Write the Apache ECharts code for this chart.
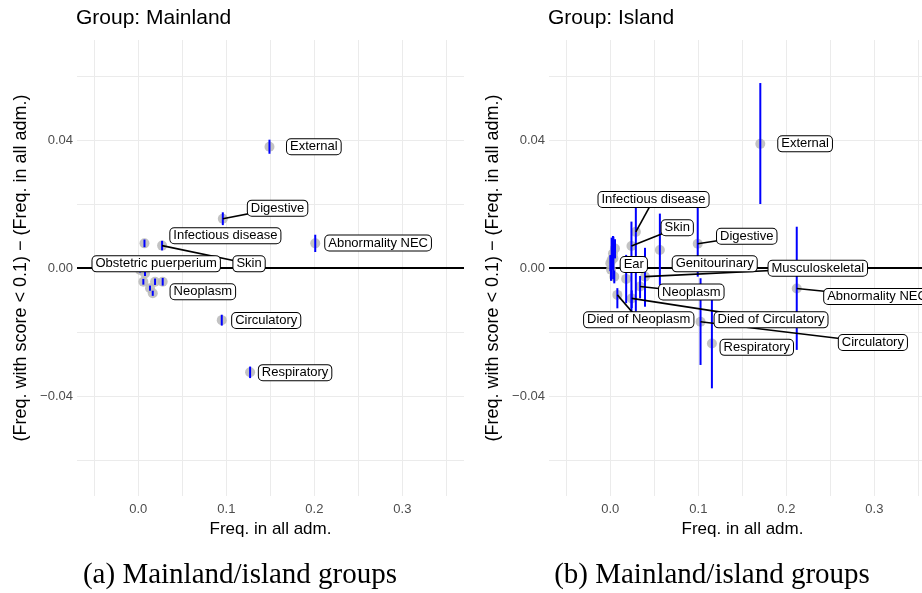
<!DOCTYPE html>
<html>
<head>
<meta charset="utf-8">
<script src="https://cdn.jsdelivr.net/npm/echarts@6/dist/echarts.min.js"></script>
<style>
  html, body { margin: 0; padding: 0; background: #fff; overflow: hidden; }
  #chart { width: 940px; height: 593px; }
</style>
</head>
<body>
<div id="chart"></div>
<script>
// ---- Mainland group: frequency in all admissions vs. difference in frequency ----
const mainNames = ['External', 'Digestive', 'Abnormality NEC', 'Skin', 'Infectious disease',
  'Obstetric puerperium', 'Neoplasm', 'Circulatory', 'Respiratory', '', '', '', '', '', ''];
const mainX  = [0.149, 0.096, 0.201, 0.027, 0.007, 0.003, 0.0277, 0.0948, 0.127, 0.002, 0.0076, 0.0057, 0.0133, 0.0164, 0.019];
const mainY  = [0.0379, 0.0154, 0.0077, 0.0070, 0.0077, 0.0006, -0.0043, -0.0163, -0.0326, -0.0006, -0.0017, -0.0043, -0.0063, -0.0079, -0.0043];
const mainLo = [0.0357, 0.0134, 0.0050, 0.0055, 0.0065, -0.0004, -0.0055, -0.0180, -0.0344, -0.0014, -0.0025, -0.0052, -0.0071, -0.0087, -0.0053];
const mainHi = [0.0401, 0.0174, 0.0104, 0.0085, 0.0089, 0.0016, -0.0031, -0.0146, -0.0308, 0.0002, -0.0009, -0.0034, -0.0055, -0.0071, -0.0033];

// ---- Island group ----
const islandNames = ['External', 'Digestive', 'Abnormality NEC', 'Circulatory', 'Respiratory',
  'Genitourinary', 'Infectious disease', 'Skin', 'Ear', 'Neoplasm', 'Musculoskeletal',
  'Died of Neoplasm', 'Died of Circulatory', '', '', '', '', '', '', ''];
const islandX  = [0.1704, 0.0993, 0.2118, 0.1025, 0.1154, 0.0563, 0.029, 0.024, 0.0035, 0.0338, 0.0394, 0.008, 0.0243, 0.0015, 0.003, 0.0008, 0.0045, 0.0053, 0.018, 0.0];
const islandY  = [0.0388, 0.0076, -0.0064, -0.0168, -0.0236, 0.0056, 0.0113, 0.0069, 0.0030, -0.0058, -0.0027, -0.0084, -0.0095, 0.0025, 0.0045, -0.0005, -0.0027, 0.0061, -0.0034, 0.0015];
const islandLo = [0.0200, -0.0027, -0.0256, -0.0303, -0.0376, -0.0053, -0.0136, -0.0136, -0.0035, -0.0095, -0.0121, -0.0126, -0.0125, -0.0035, -0.0005, -0.0040, -0.0048, 0.0030, -0.0110, -0.0010];
const islandHi = [0.0578, 0.0188, 0.0129, -0.0032, -0.0100, 0.0170, 0.0192, 0.0145, 0.0098, -0.0025, 0.0063, -0.0063, -0.0070, 0.0095, 0.0100, 0.0040, -0.0008, 0.0090, 0.0041, 0.0040];

// Tick labels
const xTickLabels = ['0.0', '0.1', '0.2', '0.3'];
const yTickLabels = ['−0.04', '0.00', '0.04'];

// Repelled label anchors (data units) and whether a leader segment is drawn
const mainLabelX = [0.1994, 0.1582, 0.2724, 0.1258, 0.0989, 0.0203, 0.0733, 0.1453, 0.1781];
const mainLabelY = [0.0379, 0.0187, 0.0078, 0.0013, 0.0101, 0.0013, -0.0074, -0.0164, -0.0327];
const mainLabelLink = [false, true, false, true, false, false, false, false, false];

const islandLabelX = [0.2213, 0.155, 0.303, 0.2983, 0.1664, 0.1186, 0.0491, 0.076, 0.0267, 0.092, 0.2357, 0.0323, 0.1826];
const islandLabelY = [0.0388, 0.0099, -0.0089, -0.0233, -0.0248, 0.0013, 0.0214, 0.0126, 0.0011, -0.0075, -0.0001, -0.0162, -0.0162];
const islandLabelLink = [false, true, true, true, false, false, true, true, false, true, true, true, true];

const SANS = '"Liberation Sans", Arial, Helvetica, sans-serif';
const SERIF = '"Liberation Serif", "Times New Roman", serif';
const GRID_COLOR = '#ebebeb';

function near(v, step) {
  const q = v / step;
  return Math.abs(q - Math.round(q)) < 1e-6;
}

function xAxisFor(gridIndex) {
  return {
    type: 'value', gridIndex,
    min: -0.06966, max: 0.37, splitNumber: 9,
    axisLine: { show: false }, axisTick: { show: false },
    splitLine: { show: true, showMinLine: false, showMaxLine: false, lineStyle: { color: GRID_COLOR, width: 1 } },
    axisLabel: {
      color: '#4d4d4d', fontSize: 13, fontFamily: SANS, margin: 7,
      showMinLabel: false, showMaxLabel: false,
      formatter: v => {
        if (!near(v, 0.1)) return '';
        const i = Math.round(v * 10);
        return xTickLabels[i] !== undefined ? xTickLabels[i] : '';
      }
    },
    name: 'Freq. in all adm.', nameLocation: 'middle', nameGap: 23,
    nameTextStyle: { color: '#000', fontSize: 17, fontFamily: SANS }
  };
}

function yAxisFor(gridIndex) {
  return {
    type: 'value', gridIndex,
    min: -0.07125, max: 0.07125, splitNumber: 7,
    axisLine: { show: false }, axisTick: { show: false },
    splitLine: { show: true, showMinLine: false, showMaxLine: false, lineStyle: { color: GRID_COLOR, width: 1 } },
    axisLabel: {
      color: '#4d4d4d', fontSize: 13, fontFamily: SANS, margin: 4,
      showMinLabel: false, showMaxLabel: false,
      formatter: v => {
        if (!near(v, 0.04)) return '';
        const i = Math.round(v / 0.04) + 1;
        return yTickLabels[i] !== undefined ? yTickLabels[i] : '';
      }
    },
    name: '(Freq. with score < 0.1) − (Freq. in all adm.)', nameLocation: 'middle', nameGap: 47, nameRotate: 90,
    nameTextStyle: { color: '#000', fontSize: 18, fontFamily: SANS }
  };
}

function panelSeries(idx, names, xs, ys, los, his, lx, ly, link) {
  const pts = xs.map((x, i) => [x, ys[i]]);
  const bars = xs.map((x, i) => [x, los[i], his[i]]);
  const labelled = names.map((n, i) => i).filter(i => names[i] !== '');
  const labelData = labelled.map((i, k) => ({ value: [lx[k], ly[k]], name: names[i] }));
  const segData = [];
  labelled.forEach((i, k) => { if (link[k]) segData.push([xs[i], ys[i], lx[k], ly[k]]); });

  return [
    { // reference line at zero
      type: 'custom', xAxisIndex: idx, yAxisIndex: idx, z: 1, silent: true,
      data: [[0, 0]],
      renderItem: (params, api) => {
        const cs = params.coordSys;
        const yy = api.coord([0, 0])[1];
        return { type: 'line', shape: { x1: cs.x, y1: yy, x2: cs.x + cs.width, y2: yy },
          style: { stroke: '#000', lineWidth: 2 } };
      }
    },
    { // estimates
      type: 'scatter', xAxisIndex: idx, yAxisIndex: idx, z: 2, silent: true,
      symbol: 'circle', symbolSize: 10,
      itemStyle: { color: '#b9b9b9', opacity: 0.85 },
      data: pts
    },
    { // confidence intervals
      type: 'custom', xAxisIndex: idx, yAxisIndex: idx, z: 3, silent: true,
      data: bars,
      encode: { x: 0, y: [1, 2] },
      renderItem: (params, api) => {
        const a = api.coord([api.value(0), api.value(1)]);
        const b = api.coord([api.value(0), api.value(2)]);
        return { type: 'line', shape: { x1: a[0], y1: a[1], x2: b[0], y2: b[1] },
          style: { stroke: '#0000ff', lineWidth: 2 } };
      }
    },
    { // leader segments
      type: 'custom', xAxisIndex: idx, yAxisIndex: idx, z: 4, silent: true,
      data: segData,
      encode: { x: [0, 2], y: [1, 3] },
      renderItem: (params, api) => {
        const a = api.coord([api.value(0), api.value(1)]);
        const b = api.coord([api.value(2), api.value(3)]);
        return { type: 'line', shape: { x1: a[0], y1: a[1], x2: b[0], y2: b[1] },
          style: { stroke: '#000', lineWidth: 1.6 } };
      }
    },
    { // boxed labels
      type: 'custom', xAxisIndex: idx, yAxisIndex: idx, z: 5, silent: true,
      data: labelData,
      renderItem: (params, api) => {
        const p = api.coord([api.value(0), api.value(1)]);
        return {
          type: 'text', x: p[0], y: p[1],
          style: {
            text: labelData[params.dataIndex].name,
            font: '13px ' + SANS, fill: '#000',
            align: 'center', verticalAlign: 'middle',
            textAlign: 'center', textVerticalAlign: 'middle',
            backgroundColor: '#fff', borderColor: '#000', borderWidth: 1, borderRadius: 4,
            padding: [1, 3, 1, 3], lineHeight: 13
          }
        };
      }
    }
  ];
}

const chart = echarts.init(document.getElementById('chart'), null, { renderer: 'canvas' });
chart.setOption({
  animation: false,
  backgroundColor: '#fff',
  title: [
    { text: 'Group: Mainland', left: 76, top: 8, padding: 0,
      textStyle: { fontSize: 21, fontWeight: 'normal', color: '#000', fontFamily: SANS } },
    { text: 'Group: Island', left: 548, top: 8, padding: 0,
      textStyle: { fontSize: 21, fontWeight: 'normal', color: '#000', fontFamily: SANS } },
    { text: '(a) Mainland/island groups', left: 240, top: 561, textAlign: 'center', padding: 0,
      textStyle: { fontSize: 29, fontWeight: 'normal', color: '#000', fontFamily: SERIF } },
    { text: '(b) Mainland/island groups', left: 712, top: 561, textAlign: 'center', padding: 0,
      textStyle: { fontSize: 29, fontWeight: 'normal', color: '#000', fontFamily: SERIF } }
  ],
  grid: [
    { left: 77, top: 40, width: 387, height: 456 },
    { left: 549, top: 40, width: 387, height: 456 }
  ],
  xAxis: [xAxisFor(0), xAxisFor(1)],
  yAxis: [yAxisFor(0), yAxisFor(1)],
  series: [
    ...panelSeries(0, mainNames, mainX, mainY, mainLo, mainHi, mainLabelX, mainLabelY, mainLabelLink),
    ...panelSeries(1, islandNames, islandX, islandY, islandLo, islandHi, islandLabelX, islandLabelY, islandLabelLink)
  ]
});
</script>
</body>
</html>
